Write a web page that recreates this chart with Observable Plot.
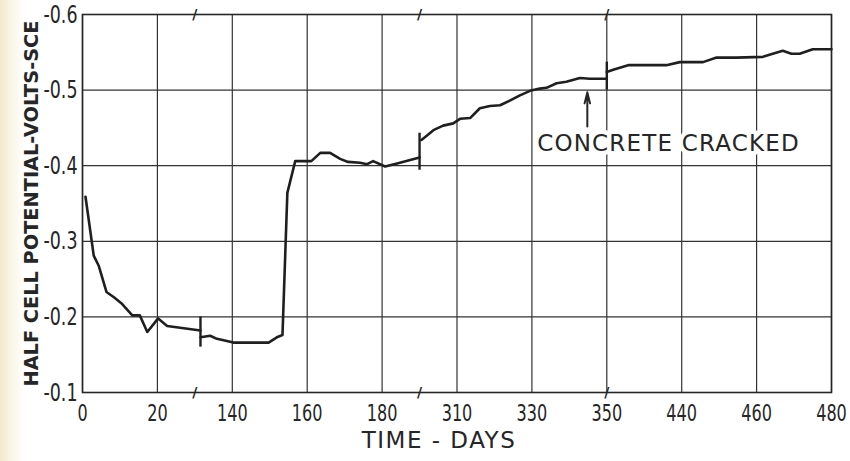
<!DOCTYPE html>
<html>
<head>
<meta charset="utf-8">
<script src="https://cdn.jsdelivr.net/npm/d3@7"></script>
<script src="https://cdn.jsdelivr.net/npm/@observablehq/plot@0.6"></script>
<style>
  html, body { margin: 0; padding: 0; }
  body { width: 850px; height: 461px; background: linear-gradient(to right, #f3e9cf 0px, #faf5e6 12px, #ffffff 24px); }
  #chart svg { display: block; }
</style>
</head>
<body>
<div id="chart"></div>
<script>
// ---- data ----
const seg1Days = [0.8, 3.0, 4.3, 6.4, 8.4, 10.6, 13.3, 15.3, 17.3, 20.2, 22.6, 31.5];
const seg1Vals = [-0.359, -0.281, -0.268, -0.233, -0.226, -0.217, -0.202, -0.202, -0.180, -0.198, -0.188, -0.182];

const seg2Days = [131.5, 134.1, 135.9, 140.3, 149.7, 151.9, 153.4, 154.7, 156.8, 161.1, 163.5, 166.1, 168.8, 170.9, 174.1, 176.0, 177.6, 180.8, 184.0, 190.0];
const seg2Vals = [-0.173, -0.175, -0.171, -0.166, -0.166, -0.173, -0.176, -0.364, -0.406, -0.406, -0.417, -0.417, -0.409, -0.405, -0.404, -0.402, -0.406, -0.399, -0.403, -0.411];

const seg3Days = [300.5, 301.5, 303.7, 306.3, 309.0, 310.8, 313.5, 316.1, 318.8, 321.5, 324.1, 326.8, 329.5, 332.1, 333.9, 336.6, 339.2, 342.8, 345.5, 350.0];
const seg3Vals = [-0.434, -0.438, -0.447, -0.453, -0.456, -0.462, -0.463, -0.476, -0.479, -0.480, -0.486, -0.493, -0.499, -0.502, -0.503, -0.509, -0.511, -0.516, -0.515, -0.515];

const seg4Days = [420.0, 421.7, 425.7, 435.9, 439.5, 445.7, 449.3, 454.6, 461.7, 464.3, 467.0, 469.3, 471.5, 475.0, 480.0];
const seg4Vals = [-0.524, -0.527, -0.533, -0.533, -0.537, -0.537, -0.543, -0.543, -0.544, -0.548, -0.552, -0.548, -0.548, -0.554, -0.554];

// vertical marks on the curve where the time axis is broken
const joinDays = [31.5, 190, 350];
const joinLow  = [-0.160, -0.394, -0.500];
const joinHigh = [-0.200, -0.443, -0.537];

// axis
const tickDays = [0, 20, 140, 160, 180, 310, 330, 350, 440, 460, 480];
const yTicks = [-0.6, -0.5, -0.4, -0.3, -0.2, -0.1];
const axisBreakDays = [30, 190, 350];

const xTitle = "TIME - DAYS";
const yTitle = "HALF CELL POTENTIAL-VOLTS-SCE";
const noteText = "CONCRETE CRACKED";
const noteDay = 331.4, noteVal = -0.429;
const arrowDay = 344.8, arrowFrom = -0.452, arrowTo = -0.497;

// ---- broken time axis: map days to a continuous grid position ----
function toU(d) {
  if (d <= 80) return d / 20;
  if (d <= 245) return 2 + (d - 140) / 20;
  if (d <= 385) return 5 + (d - 310) / 20;
  return 8 + (d - 440) / 20;
}

const segs = [[seg1Days, seg1Vals], [seg2Days, seg2Vals], [seg3Days, seg3Vals], [seg4Days, seg4Vals]];
const lineData = segs.flatMap(([ds, vs], s) => ds.map((d, i) => ({u: toU(d), v: vs[i], seg: s})));
const joins = joinDays.map((d, i) => ({u: toU(d), lo: joinLow[i], hi: joinHigh[i]}));
const tickU = tickDays.map(toU);
const labelByU = new Map(tickDays.map(d => [toU(d), String(d)]));
const breakU = axisBreakDays.map(toU);

const ink = "#262626";
const font = "'DejaVu Sans', 'Open Sans', sans-serif";

const chart = Plot.plot({
  width: 850,
  height: 461,
  marginLeft: 82,
  marginRight: 19,
  marginTop: 14,
  marginBottom: 69,
  x: {domain: [0, 10]},
  y: {domain: [-0.1, -0.6]},
  style: {fontFamily: font, background: "transparent", color: ink},
  marks: [
    Plot.gridX(tickU, {stroke: "#333", strokeOpacity: 1, strokeWidth: 1.2}),
    Plot.gridY(yTicks, {stroke: "#333", strokeOpacity: 1, strokeWidth: 1.2}),
    Plot.frame({stroke: ink, strokeWidth: 1.6}),
    Plot.axisX(tickU, {tickSize: 0, tickPadding: 12, tickFormat: u => labelByU.get(u), fontSize: 23, label: null}),
    Plot.axisY(yTicks, {tickSize: 0, tickPadding: 5, tickFormat: d => d.toFixed(1), fontSize: 25, label: null}),
    Plot.text([yTitle], {frameAnchor: "left", dx: -51, dy: 0, rotate: -90, textAnchor: "middle", text: d => d, fontSize: 20, fontWeight: "bold", fill: ink}),
    Plot.text([xTitle], {frameAnchor: "bottom", dx: -18, dy: 55, text: d => d, fontSize: 23, fill: ink}),
    Plot.text(breakU, {x: d => d, frameAnchor: "top", lineAnchor: "middle", text: () => "/", fontSize: 14, fontWeight: "bold", fill: ink}),
    Plot.text(breakU, {x: d => d, frameAnchor: "bottom", lineAnchor: "middle", text: () => "/", fontSize: 14, fontWeight: "bold", fill: ink}),
    Plot.line(lineData, {x: "u", y: "v", z: "seg", stroke: "#1f1f1f", strokeWidth: 2.6, strokeLinejoin: "round"}),
    Plot.ruleX(joins, {x: "u", y1: "lo", y2: "hi", stroke: "#1f1f1f", strokeWidth: 2.4}),
    Plot.text([noteText], {x: () => toU(noteDay), y: () => noteVal, text: d => d, textAnchor: "start", fontSize: 23, fill: ink, stroke: "white", strokeWidth: 9}),
    Plot.arrow([0], {x1: () => toU(arrowDay), x2: () => toU(arrowDay), y1: () => arrowFrom, y2: () => arrowTo, stroke: ink, strokeWidth: 2, headLength: 9, headAngle: 28})
  ]
});
document.getElementById("chart").appendChild(chart);

// condense the lettering of the tick labels and the vertical title, as on the original drawing
chart.querySelectorAll('[aria-label="x-axis tick label"] text, [aria-label="y-axis tick label"] text').forEach(t => {
  const w = t.getComputedTextLength();
  t.setAttribute("textLength", (w * 0.7).toFixed(1));
  t.setAttribute("lengthAdjust", "spacingAndGlyphs");
});
chart.querySelectorAll("text").forEach(t => {
  const s = t.textContent;
  if (s === yTitle) {
    t.setAttribute("textLength", "366");
    t.setAttribute("lengthAdjust", "spacingAndGlyphs");
  } else if (s === xTitle) {
    t.style.letterSpacing = "1.5px";
  } else if (s === noteText) {
    t.style.letterSpacing = "1.2px";
  }
});
</script>
</body>
</html>
